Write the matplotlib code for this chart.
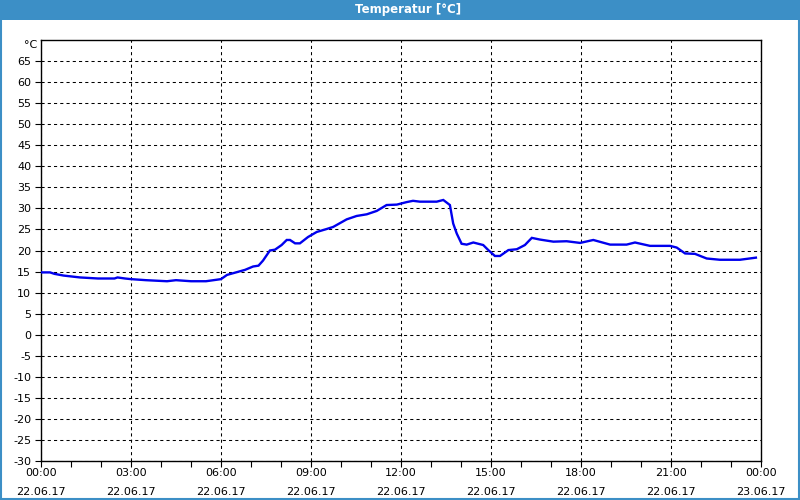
import matplotlib
matplotlib.use("Agg")
import matplotlib.pyplot as plt
from matplotlib.patches import Rectangle
from matplotlib.ticker import MultipleLocator

# ---- data (hours since 22.06.17 00:00, temperature in °C) ----
hours = [0.0, 0.3, 0.45, 0.75, 1.3, 1.9, 2.45, 2.55, 2.8, 3.0, 3.5, 4.2, 4.5, 5.0,
         5.5, 6.0, 6.2, 6.5, 6.8, 7.07, 7.25, 7.4, 7.63, 7.8, 8.02, 8.19, 8.3,
         8.47, 8.63, 8.9, 9.19, 9.52, 9.74, 10.19, 10.52, 10.86, 11.19, 11.52,
         11.86, 12.19, 12.4, 12.63, 13.19, 13.41, 13.63, 13.74, 13.86, 14.02,
         14.19, 14.41, 14.74, 14.91, 15.13, 15.3, 15.58, 15.86, 16.13, 16.36,
         16.63, 17.08, 17.52, 17.97, 18.41, 18.97, 19.52, 19.8, 20.3, 20.97,
         21.19, 21.47, 21.8, 22.19, 22.63, 23.3, 23.83]
temps = [14.8, 14.8, 14.45, 14.05, 13.6, 13.35, 13.35, 13.6, 13.35, 13.2, 12.95,
         12.7, 12.95, 12.7, 12.7, 13.2, 14.2, 14.8, 15.4, 16.2, 16.4, 17.6, 20.0,
         20.2, 21.3, 22.5, 22.5, 21.7, 21.7, 23.2, 24.4, 25.1, 25.6, 27.4, 28.2,
         28.6, 29.4, 30.8, 30.9, 31.5, 31.8, 31.6, 31.6, 32.0, 30.8, 26.4, 24.0,
         21.6, 21.4, 21.9, 21.3, 20.1, 18.7, 18.7, 20.1, 20.3, 21.3, 23.0, 22.6,
         22.1, 22.2, 21.8, 22.5, 21.4, 21.4, 21.9, 21.1, 21.1, 20.7, 19.3, 19.2,
         18.1, 17.8, 17.8, 18.3]

y_ticks = list(range(-30, 70, 5))
x_major = list(range(0, 25, 3))
x_labels = ["00:00\n22.06.17", "03:00\n22.06.17", "06:00\n22.06.17",
            "09:00\n22.06.17", "12:00\n22.06.17", "15:00\n22.06.17",
            "18:00\n22.06.17", "21:00\n22.06.17", "00:00\n23.06.17"]
title = "Temperatur [°C]"
unit = "°C"

W, H = 800, 500
fig = plt.figure(figsize=(W / 100, H / 100), dpi=100)
fig.patch.set_facecolor("white")

blue = "#3c8fc6"
# title bar and window border
fig.patches.append(Rectangle((0, 1 - 20 / H), 1, 20 / H, transform=fig.transFigure,
                             facecolor=blue, edgecolor="none", zorder=0))
fig.patches.append(Rectangle((1 / W, 1 / H), 1 - 2 / W, 1 - 2 / H, transform=fig.transFigure,
                             facecolor="none", edgecolor=blue, lw=1.5, zorder=5))
fig.text(0.51, 1 - 10 / H, title, color="white", fontsize=8.5, fontweight="bold",
         ha="center", va="center")

ax = fig.add_axes([41 / W, 1 - 461 / H, 720 / W, 421 / H])
ax.set_xlim(0, 24)
ax.set_ylim(-30, 70)
ax.plot(hours, temps, color="#0000ee", lw=1.7, zorder=3, solid_joinstyle="miter")

ax.set_yticks(y_ticks)
ax.set_yticklabels([str(v) for v in y_ticks])
ax.set_xticks(x_major)
ax.set_xticklabels(x_labels, linespacing=2.1)
ax.xaxis.set_minor_locator(MultipleLocator(1))

ax.tick_params(axis="both", which="both", direction="out", length=4, width=0.8,
               labelsize=8, colors="black")
ax.tick_params(axis="x", pad=1)
ax.tick_params(axis="y", pad=3)

ax.grid(True, which="major", color="black", lw=0.75, linestyle=(0, (3, 3)))
for s in ax.spines.values():
    s.set_linewidth(1.0)
    s.set_color("black")

ax.text(-0.005, 1 - 5 / 421, unit, transform=ax.transAxes, ha="right", va="center",
        fontsize=8)

fig.savefig("out.png", dpi=100, facecolor=fig.get_facecolor())
